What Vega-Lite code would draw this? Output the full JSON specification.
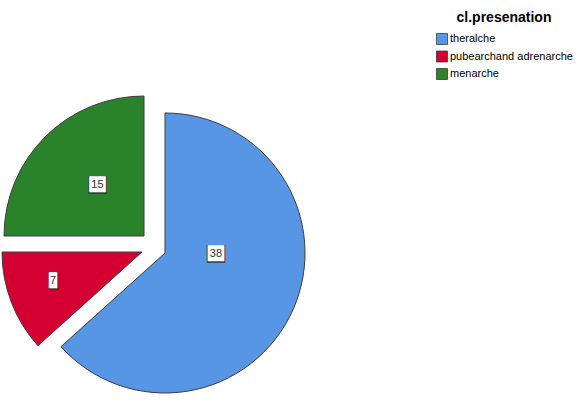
{
  "$schema": "https://vega.github.io/schema/vega-lite/v6.json",
  "width": 330,
  "height": 306,
  "autosize": {"type": "none"},
  "padding": {"left": 0, "top": 100, "right": 247, "bottom": 0},
  "background": "white",
  "data": {
    "values": [
      {"category": "theralche", "count": 38, "order": 1},
      {"category": "pubearchand adrenarche", "count": 7, "order": 2},
      {"category": "menarche", "count": 15, "order": 3}
    ]
  },
  "encoding": {
    "theta": {"field": "count", "type": "quantitative", "stack": true},
    "order": {"field": "order", "type": "quantitative"}
  },
  "layer": [
    {
      "mark": {"type": "arc", "radius": 140, "stroke": "#3c3c3c", "strokeWidth": 1},
      "encoding": {
        "color": {"field": "category", "type": "nominal", "scale": {"domain": ["theralche", "pubearchand adrenarche", "menarche"], "range": ["#5796e5", "#d50032", "#2a832b"]}, "title": "cl.presenation"},
        "fillOpacity": {"condition": {"test": "datum.category === 'theralche'", "value": 1}, "value": 0},
        "strokeOpacity": {"condition": {"test": "datum.category === 'theralche'", "value": 1}, "value": 0}
      }
    },
    {
      "mark": {"type": "arc", "radius": 140, "stroke": "#3c3c3c", "strokeWidth": 1, "xOffset": -23, "yOffset": -1},
      "encoding": {
        "color": {"field": "category", "type": "nominal", "scale": {"domain": ["theralche", "pubearchand adrenarche", "menarche"], "range": ["#5796e5", "#d50032", "#2a832b"]}, "title": "cl.presenation"},
        "fillOpacity": {"condition": {"test": "datum.category === 'pubearchand adrenarche'", "value": 1}, "value": 0},
        "strokeOpacity": {"condition": {"test": "datum.category === 'pubearchand adrenarche'", "value": 1}, "value": 0}
      }
    },
    {
      "mark": {"type": "arc", "radius": 140, "stroke": "#3c3c3c", "strokeWidth": 1, "xOffset": -21, "yOffset": -17},
      "encoding": {
        "color": {"field": "category", "type": "nominal", "scale": {"domain": ["theralche", "pubearchand adrenarche", "menarche"], "range": ["#5796e5", "#d50032", "#2a832b"]}, "title": "cl.presenation"},
        "fillOpacity": {"condition": {"test": "datum.category === 'menarche'", "value": 1}, "value": 0},
        "strokeOpacity": {"condition": {"test": "datum.category === 'menarche'", "value": 1}, "value": 0}
      }
    },
    {
      "mark": {"type": "text", "radius": 51, "thetaOffset": -0.40, "font": "DejaVu Sans Mono", "fontSize": 15, "fill": "#333333", "align": "center", "baseline": "middle"},
      "encoding": {"text": {"condition": {"test": "datum.category === 'theralche'", "value": "██"}, "value": ""}}
    },
    {
      "mark": {"type": "text", "radius": 51, "thetaOffset": -0.40, "font": "DejaVu Sans Mono", "fontSize": 13.5, "fill": "white", "align": "center", "baseline": "middle"},
      "encoding": {"text": {"condition": {"test": "datum.category === 'theralche'", "value": "██"}, "value": ""}}
    },
    {
      "mark": {"type": "text", "radius": 51, "thetaOffset": -0.40, "font": "Liberation Sans", "fontSize": 11, "fill": "#333333", "align": "center", "baseline": "middle"},
      "encoding": {"text": {"condition": {"test": "datum.category === 'theralche'", "field": "count", "type": "quantitative"}, "value": ""}}
    },
    {
      "mark": {"type": "text", "radius": 93.6, "thetaOffset": 0.052, "xOffset": -23, "yOffset": -1, "font": "DejaVu Sans Mono", "fontSize": 15, "fill": "#333333", "align": "center", "baseline": "middle"},
      "encoding": {"text": {"condition": {"test": "datum.category === 'pubearchand adrenarche'", "value": "█"}, "value": ""}}
    },
    {
      "mark": {"type": "text", "radius": 93.6, "thetaOffset": 0.052, "xOffset": -23, "yOffset": -1, "font": "DejaVu Sans Mono", "fontSize": 13.5, "fill": "white", "align": "center", "baseline": "middle"},
      "encoding": {"text": {"condition": {"test": "datum.category === 'pubearchand adrenarche'", "value": "█"}, "value": ""}}
    },
    {
      "mark": {"type": "text", "radius": 93.6, "thetaOffset": 0.052, "xOffset": -23, "yOffset": -1, "font": "Liberation Sans", "fontSize": 11, "fill": "#333333", "align": "center", "baseline": "middle"},
      "encoding": {"text": {"condition": {"test": "datum.category === 'pubearchand adrenarche'", "field": "count", "type": "quantitative"}, "value": ""}}
    },
    {
      "mark": {"type": "text", "radius": 69, "thetaOffset": 0.045, "xOffset": -21, "yOffset": -17, "font": "DejaVu Sans Mono", "fontSize": 15, "fill": "#333333", "align": "center", "baseline": "middle"},
      "encoding": {"text": {"condition": {"test": "datum.category === 'menarche'", "value": "██"}, "value": ""}}
    },
    {
      "mark": {"type": "text", "radius": 69, "thetaOffset": 0.045, "xOffset": -21, "yOffset": -17, "font": "DejaVu Sans Mono", "fontSize": 13.5, "fill": "white", "align": "center", "baseline": "middle"},
      "encoding": {"text": {"condition": {"test": "datum.category === 'menarche'", "value": "██"}, "value": ""}}
    },
    {
      "mark": {"type": "text", "radius": 69, "thetaOffset": 0.045, "xOffset": -21, "yOffset": -17, "font": "Liberation Sans", "fontSize": 11, "fill": "#333333", "align": "center", "baseline": "middle"},
      "encoding": {"text": {"condition": {"test": "datum.category === 'menarche'", "field": "count", "type": "quantitative"}, "value": ""}}
    }
  ],
  "config": {
    "view": {"stroke": null},
    "legend": {
      "orient": "none",
      "legendX": 436,
      "legendY": -89,
      "titleFont": "Liberation Sans",
      "titleFontSize": 14,
      "titleFontWeight": "bold",
      "titleColor": "black",
      "titleAnchor": "middle",
      "titlePadding": 8,
      "labelFont": "Liberation Sans",
      "labelFontSize": 11,
      "labelColor": "black",
      "labelOffset": 2,
      "symbolType": "square",
      "symbolSize": 121,
      "symbolStrokeColor": "#3c3c3c",
      "symbolStrokeWidth": 0.8,
      "rowPadding": 1.5
    }
  }
}
